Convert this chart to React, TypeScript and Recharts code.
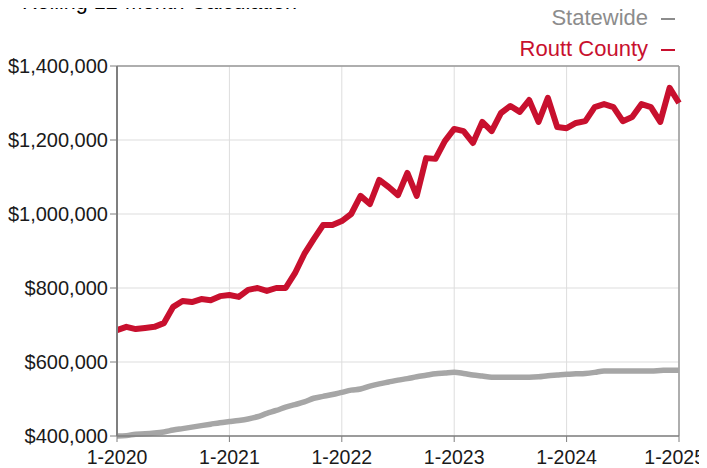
import { LineChart, Line, XAxis, YAxis, CartesianGrid, ReferenceLine } from 'recharts';

const years = [2020, 2021, 2022, 2023, 2024];
const xTicks = ['1-2020', '1-2021', '1-2022', '1-2023', '1-2024', '1-2025'];
const yTicks = [400000, 600000, 800000, 1000000, 1200000, 1400000];

const routtCounty = [
  686000, 695000, 689000, 692000, 695000, 705000, 749000, 765000, 762000, 770000,
  767000, 778000, 781000, 776000, 795000, 800000, 792000, 800000, 800000, 840000,
  892000, 932000, 970000, 970000, 981000, 1000000, 1049000, 1027000, 1092000, 1073000,
  1051000, 1111000, 1049000, 1151000, 1149000, 1197000, 1230000, 1224000, 1192000, 1249000,
  1224000, 1273000, 1292000, 1276000, 1308000, 1249000, 1314000, 1235000, 1232000, 1246000,
  1251000, 1289000, 1297000, 1289000, 1251000, 1262000, 1297000, 1289000, 1249000, 1341000,
  1300000,
];

const statewide = [
  400000, 401000, 405000, 406000, 408000, 411000, 416000, 420000, 424000, 428000,
  432000, 436000, 439000, 442000, 446000, 452000, 461000, 469000, 478000, 485000,
  492000, 502000, 507000, 512000, 518000, 524000, 527000, 535000, 541000, 546000,
  551000, 555000, 560000, 564000, 568000, 570000, 572000, 569000, 565000, 562000,
  559000, 559000, 559000, 559000, 559000, 560000, 563000, 565000, 567000, 568000,
  569000, 572000, 576000, 576000, 576000, 576000, 576000, 576000, 577000, 578000,
  578000,
];

const months: string[] = [];
years.forEach((y) => {
  for (let m = 1; m <= 12; m++) months.push(`${m}-${y}`);
});
months.push('1-2025');

const data = months.map((month, i) => ({
  month,
  statewide: statewide[i],
  routt: routtCounty[i],
}));

const FONT = '"Liberation Sans", Arial, Helvetica, sans-serif';
const RED = '#c8102e';
const GRAY = '#a6a6a6';
const CHART_W = 699;

const legendItems = [
  { name: 'Statewide', color: '#8c8c8c' },
  { name: 'Routt County', color: RED },
];

// last label sits flush with the right edge, like the reference
const renderXTick = (props: any) => {
  const { x, y, payload, index } = props;
  const last = index === xTicks.length - 1 || payload.value === '1-2025';
  return (
    <g transform={`translate(${last ? CHART_W - 2 : x},${y})`}>
      <text
        x={0}
        y={0}
        dy="0.71em"
        textAnchor={last ? 'end' : 'middle'}
        fill="#1a1a1a"
        fontSize={19.5}
        fontFamily={FONT}
      >
        {payload.value}
      </text>
    </g>
  );
};

export default function App() {
  return (
    <div style={{ position: 'relative', width: CHART_W, height: 460, fontFamily: FONT }}>
      <div
        style={{
          position: 'absolute',
          left: 14,
          top: -16,
          fontSize: 21.5,
          lineHeight: '20px',
          color: '#000',
          whiteSpace: 'nowrap',
        }}
      >
        Rolling 12-Month Calculation
      </div>
      <div
        style={{
          position: 'absolute',
          right: 32,
          top: -6,
          fontSize: 22,
          lineHeight: '31px',
          textAlign: 'right',
          zIndex: 1,
        }}
      >
        {legendItems.map((item) => (
          <div key={item.name} style={{ color: item.color }}>
            {item.name}
            <span
              style={{
                display: 'inline-block',
                width: 14,
                height: 0,
                borderTop: `2px solid ${item.color}`,
                marginLeft: 13,
                verticalAlign: 'middle',
              }}
            />
          </div>
        ))}
      </div>
      <LineChart width={CHART_W} height={460} data={data} margin={{ top: 58, right: 28, left: 0, bottom: 0 }}>
        <CartesianGrid stroke="#dddddd" strokeWidth={1} />
        <XAxis
          dataKey="month"
          ticks={xTicks}
          interval={0}
          height={32}
          tickSize={6}
          tickMargin={8}
          axisLine={{ stroke: '#7f7f7f', strokeWidth: 1.5 }}
          tickLine={{ stroke: '#7f7f7f' }}
          tick={renderXTick}
        />
        <YAxis
          domain={[400000, 1400000]}
          ticks={yTicks}
          width={109}
          tickSize={7}
          tickMargin={2}
          axisLine={{ stroke: '#7f7f7f', strokeWidth: 2 }}
          tickLine={{ stroke: '#7f7f7f' }}
          tick={{ fill: '#1a1a1a', fontSize: 20, fontFamily: FONT }}
          tickFormatter={(v: number) => `$${v.toLocaleString('en-US')}`}
        />
        <ReferenceLine y={1400000} stroke="#999999" strokeWidth={1.5} />
        <ReferenceLine x="1-2025" stroke="#999999" strokeWidth={1.5} />
        <Line
          type="monotone"
          dataKey="statewide"
          name="Statewide"
          stroke={GRAY}
          strokeWidth={5.5}
          dot={false}
          isAnimationActive={false}
        />
        <Line
          type="linear"
          dataKey="routt"
          name="Routt County"
          stroke={RED}
          strokeWidth={6}
          strokeLinejoin="round"
          dot={false}
          isAnimationActive={false}
        />
      </LineChart>
    </div>
  );
}
